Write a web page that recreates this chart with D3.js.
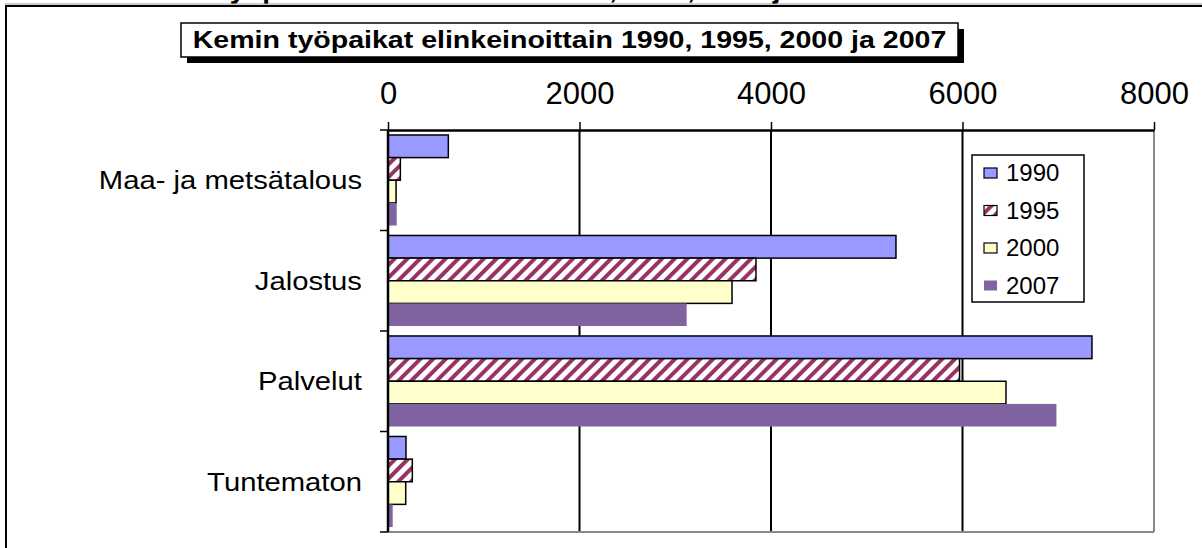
<!DOCTYPE html>
<html>
<head>
<meta charset="utf-8">
<script src="https://cdn.jsdelivr.net/npm/d3@7"></script>
<style>
body { margin: 0; background: #fff; }
svg { display: block; font-family: Arial, "Liberation Sans", sans-serif; }
</style>
</head>
<body>
<svg id="chart" width="1202" height="548"></svg>
<script>
// values
let categories = ["Maa- ja metsätalous", "Jalostus", "Palvelut", "Tuntematon"];
let years = ["1990", "1995", "2000", "2007"];
let v1990 = [630, 5305, 7352, 188];
let v1995 = [129, 3843, 5969, 254];
let v2000 = [84, 3593, 6454, 185];
let v2007 = [91, 3119, 6981, 49];
let xTicks = [0, 2000, 4000, 6000, 8000];
let title = "Kemin työpaikat elinkeinoittain 1990, 1995, 2000 ja 2007";

let series = [v1990, v1995, v2000, v2007];
let fills = ["#9999ff", "url(#hatch)", "#ffffcc", "#8064a2"];
let strokes = ["#000", "#000", "#000", "none"];

let svg = d3.select("#chart");
let margin = {left: 388, right: 48, top: 130, bottom: 16};
let width = 1202, height = 548;

// hatch pattern for 1995
let defs = svg.append("defs");
let pat = defs.append("pattern")
    .attr("id", "hatch")
    .attr("patternUnits", "userSpaceOnUse")
    .attr("width", 9).attr("height", 9)
    .attr("patternTransform", "rotate(45)");
pat.append("rect").attr("width", 9).attr("height", 9).attr("fill", "#fff");
pat.append("rect").attr("width", 4).attr("height", 9).attr("fill", "#993366");

// heading of the page above, cut off at the top edge like in the picture
svg.append("text")
    .attr("x", 127).attr("y", -2)
    .attr("font-size", 28).attr("font-weight", "bold")
    .text(title);

// outer frame
svg.append("line").attr("x1", 5).attr("x2", width).attr("y1", 4).attr("y2", 4)
    .attr("stroke", "#999").attr("stroke-width", 1);
svg.append("line").attr("x1", 5).attr("x2", width).attr("y1", 6).attr("y2", 6)
    .attr("stroke", "#000").attr("stroke-width", 2);
svg.append("line").attr("x1", 6).attr("x2", 6).attr("y1", 5).attr("y2", height)
    .attr("stroke", "#000").attr("stroke-width", 2);

let x = d3.scaleLinear().domain([0, 8000]).range([margin.left, width - margin.right]);
let y0 = d3.scaleBand().domain(categories).range([margin.top, height - margin.bottom]);
let y1 = d3.scaleBand().domain(years).range([0, y0.bandwidth()]).paddingInner(0).paddingOuter(0.22);

// gridlines
svg.append("g").selectAll("line").data(xTicks.slice(1, -1)).enter().append("line")
    .attr("x1", d => x(d)).attr("x2", d => x(d))
    .attr("y1", margin.top).attr("y2", height - margin.bottom)
    .attr("stroke", "#000").attr("stroke-width", 2);

// plot border right / bottom (grey)
svg.append("line").attr("x1", x(8000)).attr("x2", x(8000))
    .attr("y1", margin.top).attr("y2", height - margin.bottom)
    .attr("stroke", "#888").attr("stroke-width", 2);
svg.append("line").attr("x1", margin.left).attr("x2", x(8000))
    .attr("y1", height - margin.bottom).attr("y2", height - margin.bottom)
    .attr("stroke", "#888").attr("stroke-width", 2);

// bars
let groups = svg.append("g").selectAll("g").data(categories).enter().append("g")
    .attr("transform", d => `translate(0, ${y0(d)})`);
groups.selectAll("rect")
    .data((c, ci) => years.map((yr, si) => ({year: yr, si: si, value: series[si][ci]})))
    .enter().append("rect")
    .attr("x", x(0))
    .attr("y", d => y1(d.year))
    .attr("width", d => x(d.value) - x(0))
    .attr("height", y1.bandwidth())
    .attr("fill", d => fills[d.si])
    .attr("stroke", d => strokes[d.si])
    .attr("stroke-width", 1.5);

// top axis
let xAxis = svg.append("g")
    .attr("transform", `translate(0, ${margin.top})`)
    .call(d3.axisTop(x).tickValues(xTicks).tickFormat(d3.format("d"))
        .tickSize(8).tickPadding(18).tickSizeOuter(0));
xAxis.select(".domain").attr("stroke-width", 2.5);
xAxis.selectAll(".tick line").attr("stroke-width", 1.5);
xAxis.selectAll(".tick text").attr("font-size", 31).attr("font-family", "Arial, 'Liberation Sans', sans-serif");

// left axis
let yAxis = svg.append("g").attr("transform", `translate(${margin.left}, 0)`);
yAxis.append("line").attr("x1", 0).attr("x2", 0)
    .attr("y1", margin.top).attr("y2", height - margin.bottom)
    .attr("stroke", "#000").attr("stroke-width", 2.5);
let bounds = categories.map(c => y0(c)).concat([y0.range()[1]]);
yAxis.selectAll(".yt").data(bounds).enter().append("line")
    .attr("x1", -8).attr("x2", 0)
    .attr("y1", d => d).attr("y2", d => d)
    .attr("stroke", "#000").attr("stroke-width", 1.5);
yAxis.selectAll(".yl").data(categories).enter().append("text")
    .attr("transform", d => `translate(-26, ${y0(d) + y0.bandwidth() / 2}) scale(1.17, 1)`)
    .attr("dy", "0.35em")
    .attr("text-anchor", "end")
    .attr("font-size", 25)
    .text(d => d);

// title box with shadow
let tb = {x: 181, y: 23, w: 777, h: 34};
svg.append("rect").attr("x", tb.x + 6).attr("y", tb.y + 6).attr("width", tb.w).attr("height", tb.h).attr("fill", "#000");
svg.append("rect").attr("x", tb.x).attr("y", tb.y).attr("width", tb.w).attr("height", tb.h)
    .attr("fill", "#fff").attr("stroke", "#000").attr("stroke-width", 1.5);
svg.append("text")
    .attr("transform", `translate(${tb.x + tb.w / 2}, ${tb.y + tb.h / 2}) scale(1.19, 1)`)
    .attr("dy", "0.35em")
    .attr("text-anchor", "middle")
    .attr("font-size", 24).attr("font-weight", "bold")
    .text(title);

// legend
let lg = svg.append("g").attr("transform", "translate(972, 155)");
lg.append("rect").attr("width", 112).attr("height", 147)
    .attr("fill", "#fff").attr("stroke", "#000").attr("stroke-width", 1.5);
let items = lg.selectAll(".item").data(years).enter().append("g")
    .attr("transform", (d, i) => `translate(12, ${18 + i * 37.5})`);
items.append("rect")
    .attr("x", 0).attr("y", -5).attr("width", 13).attr("height", 10)
    .attr("fill", (d, i) => fills[i])
    .attr("stroke", (d, i) => strokes[i]).attr("stroke-width", 1.2);
items.append("text")
    .attr("x", 22).attr("dy", "0.35em")
    .attr("font-size", 24)
    .text(d => d);
</script>
</body>
</html>
